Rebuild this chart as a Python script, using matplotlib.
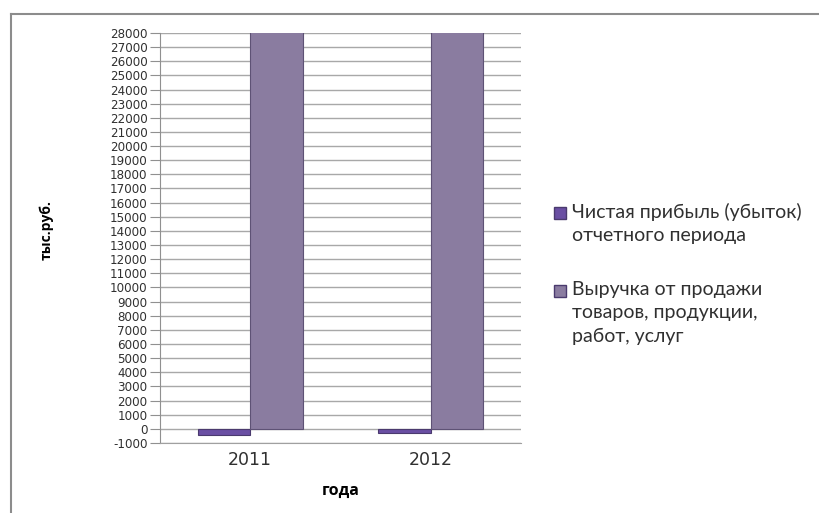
import matplotlib
matplotlib.use("Agg")
import matplotlib.pyplot as plt
from matplotlib.lines import Line2D
import numpy as np

# данные с диаграммы (тыс. руб.)
years = ["2011", "2012"]
profit = [-420, -260]           # Чистая прибыль (убыток) отчетного периода
revenue = [31500, 30500]        # Выручка (выходит за верх шкалы 28000)
series_names = ["Чистая прибыль (убыток)\nотчетного периода",
                "Выручка от продажи\nтоваров, продукции,\nработ, услуг"]
y_ticks = list(range(-1000, 28001, 1000))

col_profit = "#6a4fa3"
col_revenue = "#8a7ca0"
txt = "#303030"

fig = plt.figure(figsize=(8.19, 5.13), dpi=100)
ax = fig.add_axes([0.1954, 0.1365, 0.4406, 0.7992])

x = np.arange(len(years))
w = 0.29
ax.bar(x - w / 2, profit, w, color=col_profit, edgecolor="#4a3a6e", linewidth=0.8, zorder=3)
ax.bar(x + w / 2, revenue, w, color=col_revenue, edgecolor="#5e5275", linewidth=0.8, zorder=3)

ax.set_xlim(-0.5, 1.5)
ax.set_ylim(-1000, 28000)
ax.set_yticks(y_ticks)
# шкала очень плотная, поэтому шрифт мелкий, чтобы подписи не налезали
ax.set_yticklabels([str(t) for t in y_ticks], fontsize=8.6, family="DejaVu Sans", color=txt)
ax.set_xticks(x)
ax.set_xticklabels(years, fontsize=12.5, family="DejaVu Sans", color=txt)
ax.tick_params(axis="y", length=7, color="#909090", pad=2)
ax.tick_params(axis="x", length=0, pad=6)
ax.yaxis.grid(True, color="#a8a8a8", linewidth=1.0, zorder=0)
ax.set_axisbelow(True)
for s in ["top", "right"]:
    ax.spines[s].set_visible(False)
ax.spines["left"].set_color("#909090")
ax.spines["bottom"].set_color("#a0a0a0")

ax.set_ylabel("тыс.руб.", fontsize=10, fontweight="bold", family="Open Sans")
ax.set_xlabel("года", fontsize=11.5, fontweight="bold", family="Open Sans", labelpad=10)
ax.yaxis.set_label_coords(-0.295, 0.52)

# легенда вручную: маркер на уровне первой строки подписи, как в Excel
leg_y = [213, 291]   # пиксели сверху
for name, c, yy in zip(series_names, (col_profit, col_revenue), leg_y):
    yf = 1 - yy / 513
    fig.add_artist(Line2D([560 / 819], [yf], transform=fig.transFigure, marker="s",
                          markersize=8, linestyle="none", markerfacecolor=c,
                          markeredgecolor="#4a3a6e"))
    fig.text(572 / 819, yf + 10 / 513, name, ha="left", va="top", family="Lato",
             fontsize=14, color=txt, linespacing=1.45)

# рамка области диаграммы
fig.add_artist(Line2D([11 / 819, 1.0], [1 - 14 / 513, 1 - 14 / 513],
                      transform=fig.transFigure, color="#8c8c8c", linewidth=1.5))
fig.add_artist(Line2D([11 / 819, 11 / 819], [1 - 14 / 513, 0.0],
                      transform=fig.transFigure, color="#8c8c8c", linewidth=1.5))

fig.savefig("out.png", dpi=100)
